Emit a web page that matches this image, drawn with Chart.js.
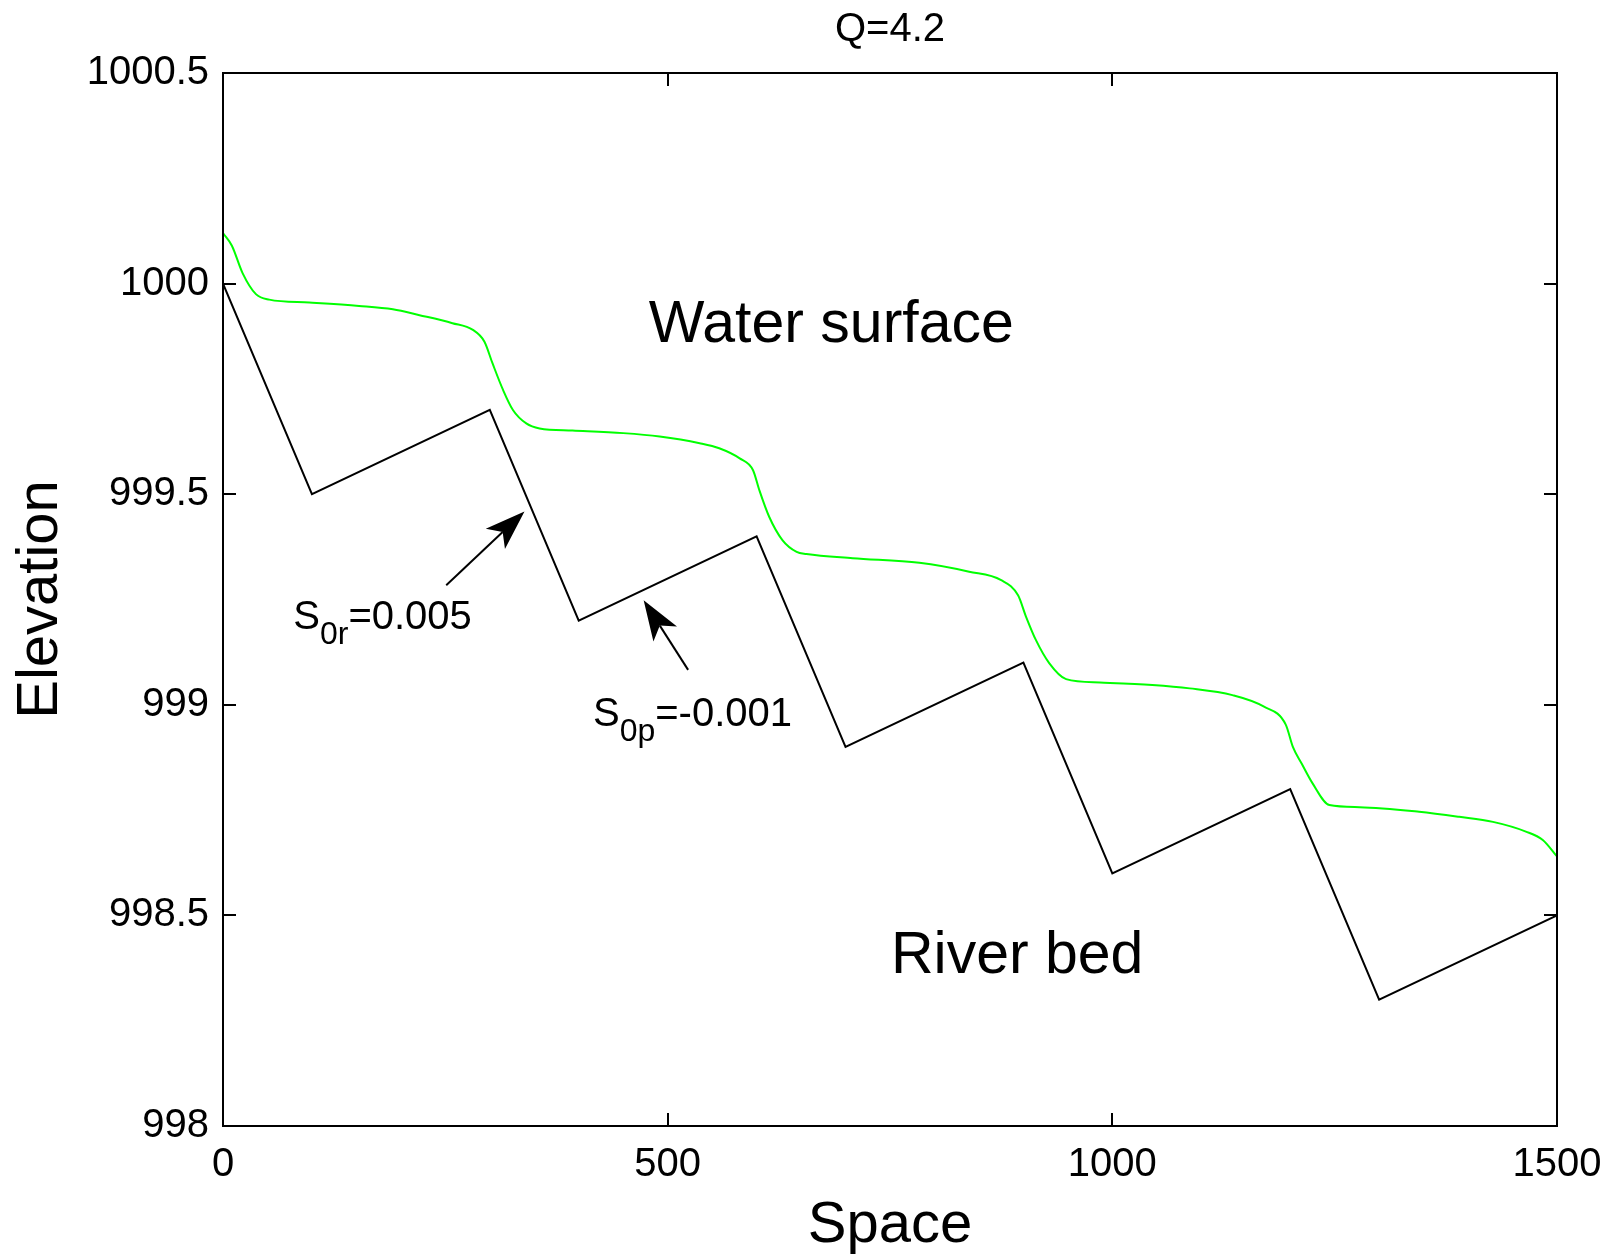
<!DOCTYPE html>
<html>
<head>
<meta charset="utf-8">
<title>Q=4.2</title>
<script src="https://cdn.jsdelivr.net/npm/chart.js@4.4.1/dist/chart.umd.min.js"></script>
<style>
  html, body { margin: 0; padding: 0; background: #fff; }
  #wrap { width: 1604px; height: 1258px; }
</style>
</head>
<body>
<div id="wrap"><canvas id="elevChart" width="1604" height="1258"></canvas></div>
<script>
// river bed: steep riffles (S0r) and adverse pools (S0p)
const bedSpace = [0, 100, 300, 400, 600, 700, 900, 1000, 1200, 1300, 1500];
const bedElevation = [1000, 999.5, 999.7, 999.2, 999.4, 998.9, 999.1, 998.6, 998.8, 998.3, 998.5];

// computed water surface profile
const waterSpace = [0, 10, 22, 37, 52, 97, 153, 191, 221, 258, 281, 294, 303, 315, 326, 341, 356, 393,
  450, 491, 536, 558, 581, 596, 603, 614, 629, 645, 656, 708, 783, 839, 875, 894, 903, 914, 929, 948,
  986, 1045, 1087, 1135, 1170, 1195, 1203, 1213, 1225, 1244, 1278, 1345, 1390, 1428, 1465, 1484, 1500];
const waterElevation = [1000.12, 1000.09, 1000.025, 999.975, 999.962, 999.955, 999.947, 999.939, 999.925,
  999.906, 999.89, 999.862, 999.811, 999.747, 999.70, 999.668, 999.656, 999.651,
  999.645, 999.637, 999.621, 999.609, 999.585, 999.557, 999.51, 999.447, 999.391, 999.363, 999.358,
  999.348, 999.337, 999.316, 999.296, 999.26, 999.209, 999.154, 999.099, 999.061,
  999.053, 999.047, 999.039, 999.023, 998.996, 998.953, 998.9, 998.86, 998.814, 998.762, 998.757,
  998.746, 998.734, 998.722, 998.699, 998.679, 998.64];

const xTicks = [0, 500, 1000, 1500];
const yTicks = [998, 998.5, 999, 999.5, 1000, 1000.5];

const chartTitle = 'Q=4.2';
const FONT = "'Liberation Sans', Arial, Helvetica, sans-serif";

// text notes placed in data units
const slopeNotes = [
  { sub: '0r', rest: '=0.005', x: 79, y: 999.18 },
  { sub: '0p', rest: '=-0.001', x: 416, y: 998.95 }
];
const slopeArrows = [
  { from: [251, 999.284], to: [339, 999.459] },
  { from: [523, 999.083], to: [473, 999.248] }
];
const regionNotes = [
  { text: 'Water surface', x: 684, y: 999.862 },
  { text: 'River bed', x: 893, y: 998.363 }
];

function toPoints(xs, ys) {
  return xs.map((v, i) => ({ x: v, y: ys[i] }));
}

function drawArrow(ctx, x0, y0, x1, y1) {
  const ang = Math.atan2(y1 - y0, x1 - x0);
  const len = 40, half = 14, notch = 30;
  const c = Math.cos(ang), s = Math.sin(ang);
  ctx.beginPath();
  ctx.moveTo(x0, y0);
  ctx.lineTo(x1 - notch * c, y1 - notch * s);
  ctx.lineWidth = 2;
  ctx.stroke();
  ctx.beginPath();
  ctx.moveTo(x1, y1);
  ctx.lineTo(x1 - len * c - half * s, y1 - len * s + half * c);
  ctx.lineTo(x1 - notch * c, y1 - notch * s);
  ctx.lineTo(x1 - len * c + half * s, y1 - len * s - half * c);
  ctx.closePath();
  ctx.fill();
}

const frameAndNotes = {
  id: 'frameAndNotes',
  afterDatasetsDraw(chart) {
    const { ctx, chartArea: a, scales: { x, y } } = chart;
    ctx.save();
    ctx.strokeStyle = '#000';
    ctx.fillStyle = '#000';
    ctx.lineWidth = 2;
    ctx.strokeRect(a.left, a.top, a.right - a.left, a.bottom - a.top);

    // tick marks pointing into the plot, on all four sides
    const tl = 13;
    ctx.beginPath();
    xTicks.forEach(v => {
      const px = Math.round(x.getPixelForValue(v));
      ctx.moveTo(px, a.bottom); ctx.lineTo(px, a.bottom - tl);
      ctx.moveTo(px, a.top); ctx.lineTo(px, a.top + tl);
    });
    yTicks.forEach(v => {
      const py = Math.round(y.getPixelForValue(v));
      ctx.moveTo(a.left, py); ctx.lineTo(a.left + tl, py);
      ctx.moveTo(a.right, py); ctx.lineTo(a.right - tl, py);
    });
    ctx.stroke();

    // title centred over the plot box
    ctx.font = '40px ' + FONT;
    ctx.textAlign = 'center';
    ctx.textBaseline = 'middle';
    ctx.fillText(chartTitle, (a.left + a.right) / 2, 30);

    // slope labels with subscripts
    ctx.textBaseline = 'alphabetic';
    ctx.textAlign = 'left';
    slopeNotes.forEach(n => {
      let px = x.getPixelForValue(n.x);
      const py = y.getPixelForValue(n.y);
      ctx.font = '40px ' + FONT;
      ctx.fillText('S', px, py);
      px += ctx.measureText('S').width;
      ctx.font = '32px ' + FONT;
      ctx.fillText(n.sub, px, py + 15);
      px += ctx.measureText(n.sub).width;
      ctx.font = '40px ' + FONT;
      ctx.fillText(n.rest, px, py);
    });

    slopeArrows.forEach(ar => {
      drawArrow(ctx,
        x.getPixelForValue(ar.from[0]), y.getPixelForValue(ar.from[1]),
        x.getPixelForValue(ar.to[0]), y.getPixelForValue(ar.to[1]));
    });

    ctx.font = '59px ' + FONT;
    ctx.textAlign = 'center';
    regionNotes.forEach(n => {
      ctx.fillText(n.text, x.getPixelForValue(n.x), y.getPixelForValue(n.y));
    });
    ctx.restore();
  }
};

const ctx = document.getElementById('elevChart');

new Chart(ctx, {
  type: 'line',
  data: {
    datasets: [{
      label: 'Water surface',
      data: toPoints(waterSpace, waterElevation),
      borderColor: '#00ff00',
      borderWidth: 2,
      pointRadius: 0,
      cubicInterpolationMode: 'monotone'
    }, {
      label: 'River bed',
      data: toPoints(bedSpace, bedElevation),
      borderColor: '#000000',
      borderWidth: 2,
      pointRadius: 0,
      tension: 0
    }]
  },
  options: {
    responsive: false,
    animation: false,
    events: [],
    layout: { padding: { left: 0, right: 47, top: 73, bottom: 0 } },
    plugins: {
      legend: { display: false },
      tooltip: { enabled: false },
      title: { display: false }
    },
    scales: {
      x: {
        type: 'linear',
        min: 0,
        max: 1500,
        grid: { display: false },
        border: { display: false },
        afterBuildTicks: s => { s.ticks = xTicks.map(v => ({ value: v })); },
        afterFit: s => { s.height = 132; s.paddingLeft = 0; s.paddingRight = 0; },
        ticks: {
          color: '#000',
          padding: 7,
          maxRotation: 0,
          font: { family: FONT, size: 40 },
          callback: v => String(v)
        },
        title: {
          display: true,
          text: 'Space',
          color: '#000',
          font: { family: FONT, size: 58, lineHeight: 1 },
          padding: { top: 0, bottom: 3 }
        }
      },
      y: {
        type: 'linear',
        min: 998,
        max: 1000.5,
        grid: { display: false },
        border: { display: false },
        afterBuildTicks: s => { s.ticks = yTicks.map(v => ({ value: v })); },
        afterFit: s => { s.width = 223; s.paddingTop = 0; s.paddingBottom = 0; },
        ticks: {
          color: '#000',
          padding: 6,
          font: { family: FONT, size: 40 },
          callback: v => String(v)
        },
        title: {
          display: true,
          text: 'Elevation',
          color: '#000',
          font: { family: FONT, size: 58, lineHeight: 1 },
          padding: { top: 12, bottom: 0 }
        }
      }
    }
  },
  plugins: [frameAndNotes]
});
</script>
</body>
</html>
